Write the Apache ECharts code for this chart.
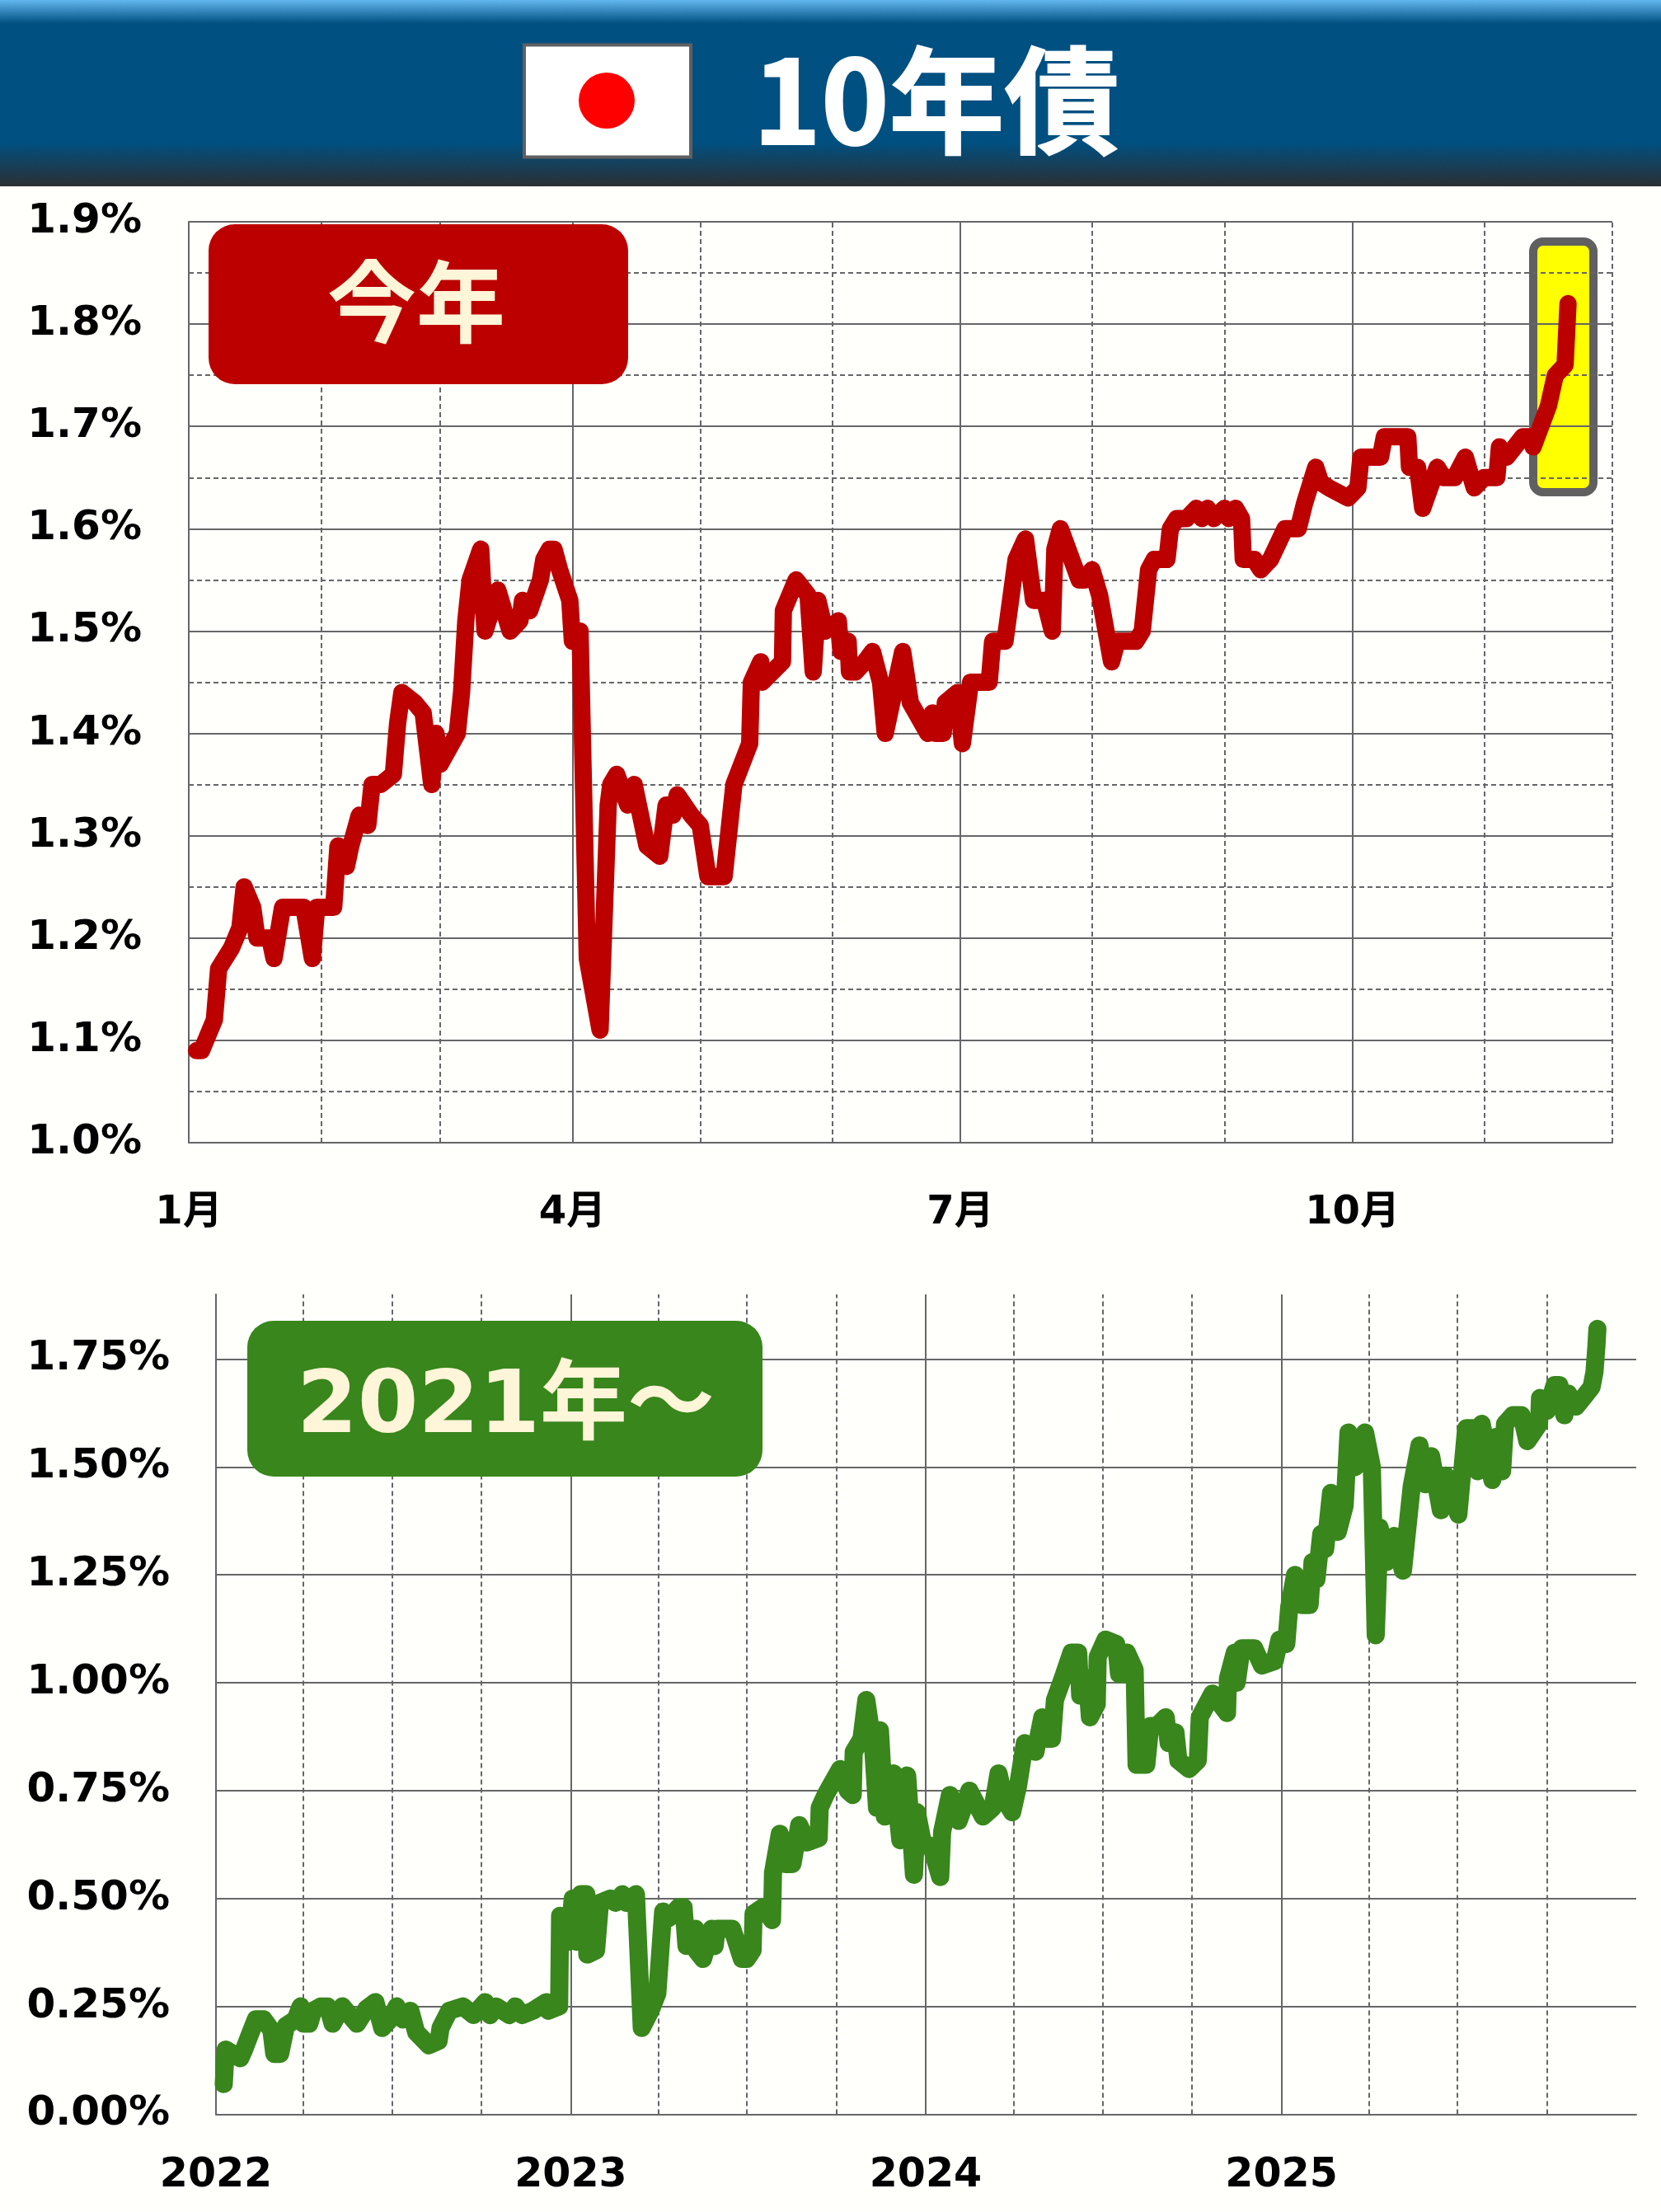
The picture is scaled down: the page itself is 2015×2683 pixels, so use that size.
<!DOCTYPE html>
<html>
<head>
<meta charset="utf-8">
<title>10年債</title>
<style>
html,body{margin:0;padding:0;background:#fffffb;}
#chart{width:2015px;height:2683px;}
</style>
<script src="https://cdn.jsdelivr.net/npm/echarts@6/dist/echarts.min.js"></script>
</head>
<body>
<div id="chart"></div>
<script>
// JGB 10-year yield, percent. Day numbers count from the first day of each panel's range.
const ytdDays = [1.8,3,6,7,10,12,13,15,16,19,20,22,27,29,30,34,35,37,38,40,42,43,45,48,49,50,53,55,57,58,59,63,64,65,66,68.5,69.5,72.5,75.4,77.7,78.3,80,82.5,83.3,84.6,85.7,87,89.4,90,91.8,93.5,96.5,98.4,99,100.4,103,104.5,107.5,110.5,112,113.6,114.6,117.9,120,121.8,125.6,127.9,131.6,132,134.2,134.5,139.3,139.5,142.5,145.3,146.5,147.6,149.3,152.4,153,154.7,155,156.4,158.6,160.4,162.3,163.4,167.5,169.3,173.4,174.5,175.2,177,177.5,180.4,181.5,183.4,187.8,188.6,191.5,194.1,196.3,198.2,200.8,202.6,203.2,204.5,208.9,210.2,211.9,213.7,216.5,217.8,222.2,223.7,225.2,226.5,229.5,230.3,231.8,234.1,236.4,237.7,239,240.5,243,244,245.6,247,247.4,250,251.5,253.8,257.2,260.3,261.8,264.4,265.6,267.5,272,274.3,275,279.6,280.5,286,286.4,288.3,289.5,292.9,294.4,297,299.5,301.6,303.9,306.9,307.5,309.2,313,315,315.4,319,320.6,322.9,323.6];
const ytdYield = [1.09,1.09,1.12,1.17,1.19,1.21,1.25,1.23,1.20,1.20,1.18,1.23,1.23,1.18,1.23,1.23,1.29,1.27,1.29,1.32,1.31,1.35,1.35,1.36,1.41,1.44,1.43,1.42,1.35,1.40,1.37,1.40,1.44,1.51,1.55,1.58,1.50,1.54,1.50,1.51,1.53,1.52,1.55,1.57,1.58,1.58,1.56,1.53,1.49,1.50,1.18,1.11,1.33,1.35,1.36,1.33,1.35,1.29,1.28,1.33,1.32,1.34,1.32,1.31,1.26,1.26,1.35,1.39,1.45,1.47,1.45,1.47,1.52,1.55,1.535,1.46,1.53,1.50,1.51,1.48,1.49,1.46,1.46,1.47,1.48,1.45,1.40,1.48,1.43,1.40,1.42,1.40,1.40,1.43,1.44,1.39,1.45,1.45,1.49,1.49,1.57,1.59,1.53,1.53,1.50,1.58,1.60,1.55,1.55,1.56,1.535,1.47,1.49,1.49,1.50,1.56,1.57,1.57,1.60,1.61,1.61,1.62,1.61,1.62,1.61,1.62,1.61,1.62,1.61,1.57,1.57,1.56,1.57,1.60,1.60,1.625,1.66,1.645,1.64,1.63,1.64,1.67,1.67,1.69,1.69,1.66,1.66,1.62,1.66,1.65,1.65,1.67,1.64,1.65,1.65,1.68,1.67,1.69,1.69,1.68,1.72,1.75,1.76,1.82];

const longDays = [8,10,25,29,34,41,49,57,60,66,72,82,87,90,96,100,108,115,120,130,145,155,164,171,179,186,192,200,206,219,229,231,240,254,265,277,282,288,302,308,315,326,340,342,353,354,363,367,371,375,381,382,391,395,406,411,418,422,432,438,447,454,460,466,476,481,484,493,494,501,510,513,515,531,541,546,552,553,563,572,573,580,586,593,600,608,620,621,627,642,650,655,656,664,669,676,680,683,688,697,704,711,718,721,727,736,745,747,755,764,775,789,799,805,811,819,825,832,843,850,855,860,863,871,880,887,889,896,899,906,907,915,926,929,936,937,945,947,957,961,968,977,980,987,990,1001,1010,1012,1025,1040,1041,1048,1050,1055,1068,1076,1089,1094,1101,1104,1110,1117,1125,1128,1132,1137,1141,1147,1154,1161,1165,1172,1182,1189,1193,1197,1204,1212,1221,1230,1238,1244,1250,1260,1265,1278,1286,1293,1298,1302,1313,1317,1323,1326,1334,1343,1349,1361,1362,1369,1377,1382,1387,1391,1399,1408,1415,1418,1420,1421];
const longYield = [0.07,0.15,0.13,0.15,0.18,0.22,0.22,0.195,0.14,0.14,0.205,0.22,0.25,0.21,0.21,0.24,0.25,0.25,0.21,0.25,0.21,0.245,0.26,0.20,0.22,0.25,0.22,0.24,0.19,0.16,0.17,0.20,0.24,0.25,0.23,0.26,0.23,0.25,0.23,0.25,0.23,0.24,0.26,0.24,0.25,0.46,0.40,0.50,0.40,0.51,0.51,0.37,0.38,0.49,0.50,0.49,0.51,0.49,0.51,0.20,0.24,0.28,0.47,0.455,0.48,0.48,0.39,0.43,0.38,0.36,0.43,0.39,0.43,0.43,0.36,0.36,0.38,0.465,0.48,0.45,0.56,0.65,0.58,0.58,0.67,0.63,0.64,0.71,0.74,0.80,0.75,0.74,0.84,0.87,0.96,0.85,0.71,0.89,0.69,0.79,0.635,0.785,0.555,0.70,0.63,0.62,0.55,0.655,0.74,0.68,0.75,0.69,0.71,0.79,0.73,0.70,0.76,0.86,0.84,0.92,0.87,0.87,0.96,1.01,1.07,1.07,0.97,1.01,0.92,0.95,1.06,1.10,1.09,1.02,1.02,1.07,1.03,0.81,0.81,0.90,0.90,0.92,0.86,0.885,0.82,0.80,0.82,0.92,0.975,0.93,1.01,1.07,1.00,1.08,1.08,1.04,1.05,1.10,1.09,1.175,1.25,1.18,1.18,1.28,1.24,1.345,1.31,1.44,1.35,1.41,1.58,1.50,1.58,1.50,1.11,1.36,1.28,1.34,1.26,1.455,1.55,1.46,1.525,1.40,1.48,1.39,1.59,1.59,1.49,1.60,1.47,1.57,1.49,1.60,1.62,1.62,1.56,1.60,1.66,1.63,1.69,1.69,1.62,1.67,1.64,1.665,1.685,1.72,1.78,1.82];

const ytdStart = '2025-01-01', ytdEnd = '2025-12-01';
const longStart = '2022-01-01', longEnd = '2026-01-01';
const ytdSolidMonths = ['2025-04-01','2025-07-01','2025-10-01'];
const ytdDashedMonths = ['2025-02-01','2025-03-01','2025-05-01','2025-06-01','2025-08-01','2025-09-01','2025-11-01','2025-12-01'];
const ytdLabelDates = ['2025-01-01','2025-04-01','2025-07-01','2025-10-01'];
const longSolidYears = ['2023-01-01','2024-01-01','2025-01-01'];
const longDashedQuarters = ['2022-04-01','2022-07-01','2022-10-01','2023-04-01','2023-07-01','2023-10-01','2024-04-01','2024-07-01','2024-10-01','2025-04-01','2025-07-01','2025-10-01'];
const longLabelDates = ['2022-01-01','2023-01-01','2024-01-01','2025-01-01'];
const longYTicks = [0,0.25,0.5,0.75,1,1.25,1.5,1.75];

const DAY = 86400000;
const ms = s => Date.parse(s + 'T00:00:00Z');
const toPairs = (start, days, vals) => days.map((d, i) => [ms(start) + d * DAY, vals[i]]);

const FONT = '"DejaVu Sans","Noto Sans CJK JP",sans-serif';
const CJK = '"Noto Sans CJK JP",sans-serif';
const GRID = '#666666';
const CREAM = '#fff5d8';

const solid = w => ({ color: GRID, width: w, type: 'solid' });
const dashed = w => ({ color: GRID, width: w, type: [6, 4] });

function verticals(solidDates, dashedDates, w) {
  return [
    ...solidDates.map(d => ({ xAxis: ms(d), lineStyle: solid(w) })),
    ...dashedDates.map(d => ({ xAxis: ms(d), lineStyle: dashed(w) }))
  ];
}

const gridSeries = (idx, lines) => ({
  type: 'line', xAxisIndex: idx, yAxisIndex: idx, data: [], silent: true, z: 1,
  markLine: { silent: true, symbol: 'none', z: 1, animation: false, label: { show: false }, data: lines }
});

const chart = echarts.init(document.getElementById('chart'), null, { renderer: 'canvas' });

const rectText = (text, x, y, size, align, family) => ({
  type: 'text', z: 101,
  style: { text, x, y, fill: CREAM, fontSize: size, fontWeight: 'bold', fontFamily: family, textAlign: align, textVerticalAlign: 'middle' }
});

chart.setOption({
  animation: false,
  backgroundColor: '#fffffb',
  grid: [
    { left: 229, top: 269, width: 1727, height: 1117, containLabel: false },
    { left: 262, top: 1570, width: 1723, height: 994.5, containLabel: false }
  ],
  xAxis: [
    {
      type: 'value', gridIndex: 0, min: ms(ytdStart), max: ms(ytdEnd),
      axisLine: { show: true, lineStyle: solid(2) }, axisTick: { show: false }, splitLine: { show: false },
      axisLabel: {
        show: true, customValues: ytdLabelDates.map(ms), margin: 62, hideOverlap: false,
        fontFamily: FONT, fontWeight: 'bold', fontSize: 48, color: '#000',
        formatter: v => (new Date(v).getUTCMonth() + 1) + '月'
      }
    },
    {
      type: 'value', gridIndex: 1, min: ms(longStart), max: ms(longEnd),
      axisLine: { show: true, lineStyle: solid(2) }, axisTick: { show: false }, splitLine: { show: false },
      axisLabel: {
        show: true, customValues: longLabelDates.map(ms), margin: 50, hideOverlap: false,
        fontFamily: FONT, fontWeight: 'bold', fontSize: 49, color: '#000',
        formatter: v => String(new Date(v).getUTCFullYear())
      }
    }
  ],
  yAxis: [
    {
      type: 'value', gridIndex: 0, min: 1.0, max: 1.9, interval: 0.1,
      axisLine: { show: true, lineStyle: solid(2) }, axisTick: { show: false },
      minorTick: { show: false, splitNumber: 2 },
      splitLine: { show: true, lineStyle: solid(2) },
      minorSplitLine: { show: true, lineStyle: dashed(2) },
      axisLabel: {
        margin: 57, fontFamily: FONT, fontWeight: 'bold', fontSize: 50, color: '#000', padding: [0, 0, 6, 0],
        formatter: v => v.toFixed(1) + '%'
      }
    },
    {
      type: 'value', gridIndex: 1, min: 0, max: 1.9, interval: 0.25,
      axisLine: { show: true, lineStyle: solid(2) }, axisTick: { show: false },
      splitLine: { show: true, showMaxLine: false, lineStyle: solid(2) },
      axisLabel: {
        margin: 56, fontFamily: FONT, fontWeight: 'bold', fontSize: 50, color: '#000', padding: [0, 0, 4, 0],
        customValues: longYTicks,
        formatter: v => v.toFixed(2) + '%'
      }
    }
  ],
  series: [
    gridSeries(0, verticals(ytdSolidMonths, ytdDashedMonths, 2)),
    gridSeries(1, verticals(longSolidYears, longDashedQuarters, 2)),
    {
      name: '今年', type: 'line', xAxisIndex: 0, yAxisIndex: 0, z: 10, showSymbol: false, symbol: 'none',
      data: toPairs(ytdStart, ytdDays, ytdYield),
      lineStyle: { color: '#bc0000', width: 21, cap: 'round', join: 'round' }
    },
    {
      name: '2021年〜', type: 'line', xAxisIndex: 1, yAxisIndex: 1, z: 10, showSymbol: false, symbol: 'none',
      data: toPairs(longStart, longDays, longYield),
      lineStyle: { color: '#38861c', width: 22, cap: 'round', join: 'round' }
    }
  ],
  graphic: [
    // title band
    {
      type: 'rect', z: 100, shape: { x: 0, y: 0, width: 2015, height: 226 },
      style: {
        fill: {
          type: 'linear', x: 0, y: 0, x2: 0, y2: 1,
          colorStops: [
            { offset: 0, color: '#62b7ee' },
            { offset: 0.125, color: '#005082' },
            { offset: 0.76, color: '#005082' },
            { offset: 1, color: '#2b2f33' }
          ]
        }
      }
    },
    { type: 'rect', z: 101, shape: { x: 636, y: 54.5, width: 202, height: 136 }, style: { fill: '#ffffff', stroke: '#606060', lineWidth: 4 } },
    { type: 'circle', z: 102, shape: { cx: 736, cy: 122, r: 34 }, style: { fill: '#ff0000' } },
    { type: 'text', z: 101, style: { text: '10年債', x: 1136, y: 122, fill: '#ffffff', stroke: '#ffffff', lineWidth: 2, fontSize: 140, fontWeight: 'bold', fontFamily: CJK, textAlign: 'center', textVerticalAlign: 'middle' } },
    // panel badges
    { type: 'rect', z: 100, shape: { x: 253, y: 272, width: 509, height: 194, r: 32 }, style: { fill: '#bc0000' } },
    rectText('今年', 505, 366, 108, 'center', CJK),
    { type: 'rect', z: 100, shape: { x: 300, y: 1602, width: 625, height: 189, r: 32 }, style: { fill: '#38861c' } },
    rectText('2021年〜', 360, 1709, 106, 'left', FONT),
    // latest-move highlight, kept under the grid lines
    { type: 'rect', z: -1, shape: { x: 1860, y: 293, width: 73, height: 304, r: 12 }, style: { fill: '#ffff00', stroke: '#606060', lineWidth: 10 } }
  ]
});
</script>
</body>
</html>
